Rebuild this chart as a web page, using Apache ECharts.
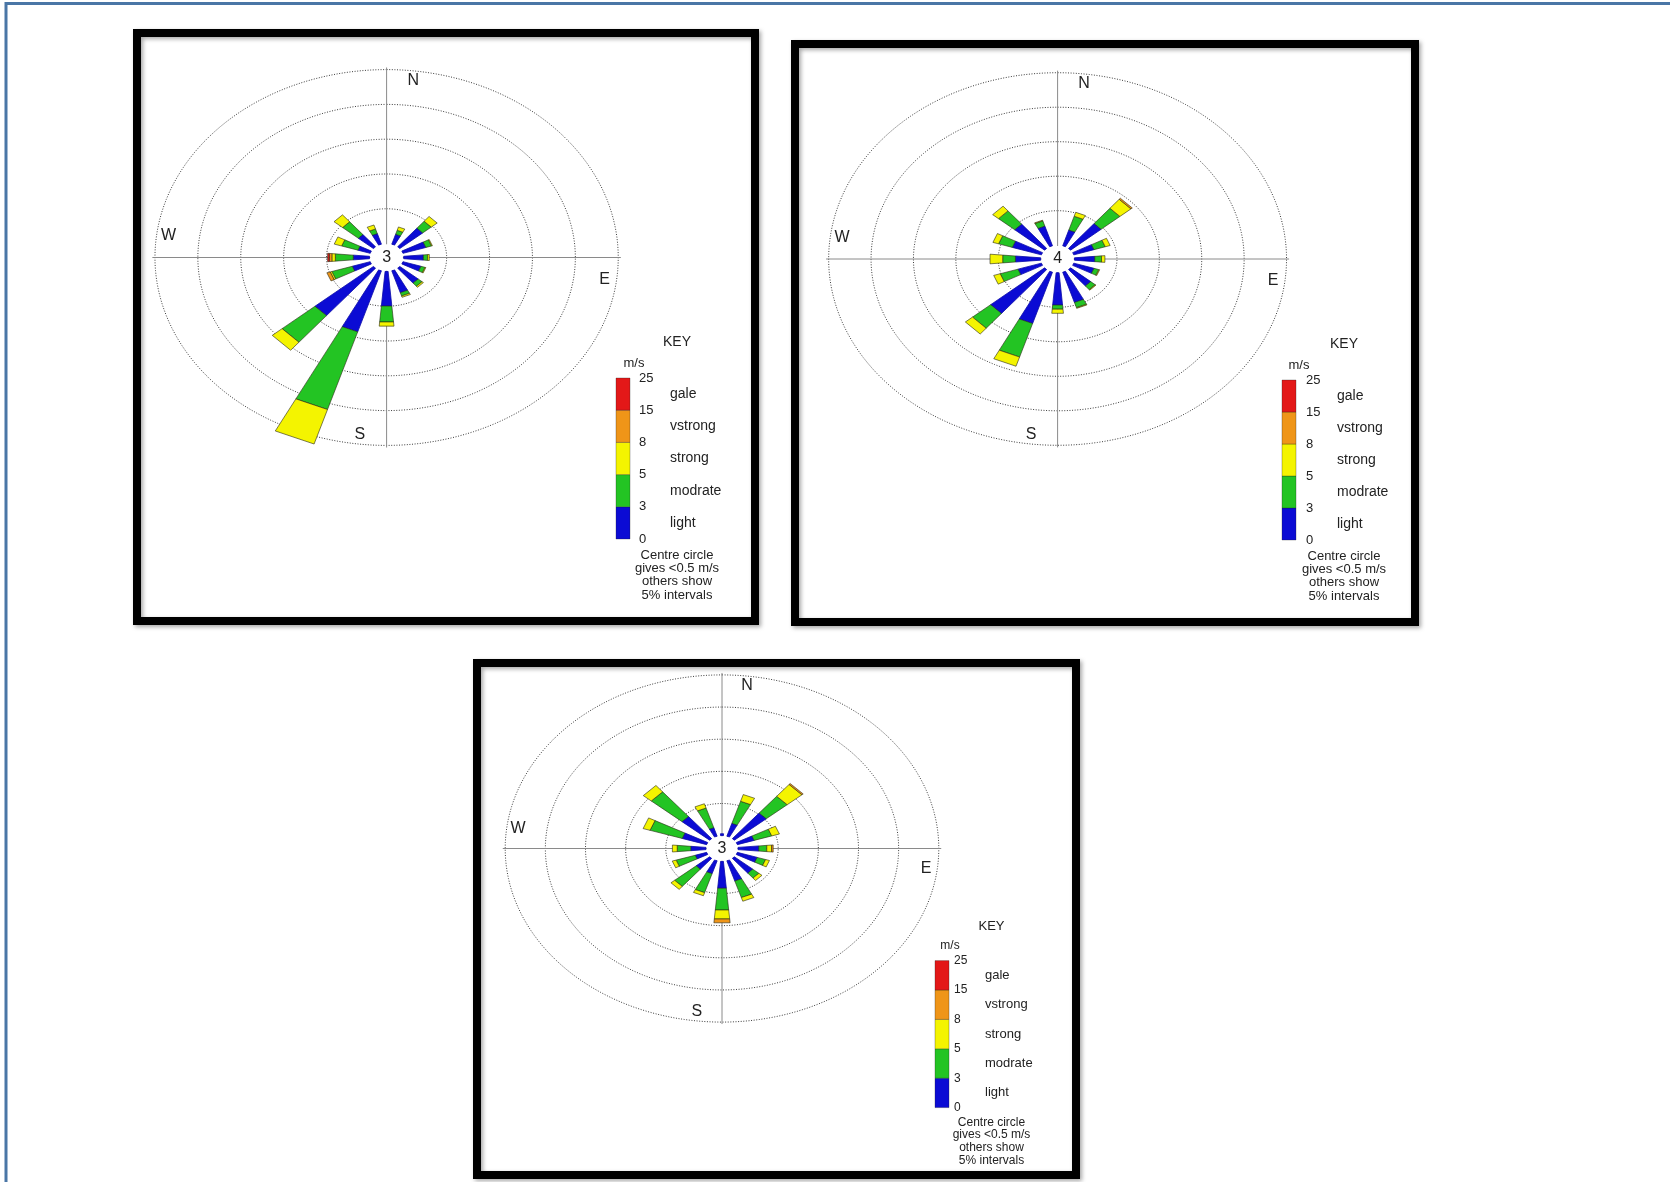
<!DOCTYPE html>
<html>
<head>
<meta charset="utf-8">
<script src="https://cdn.jsdelivr.net/npm/echarts/dist/echarts.min.js"></script>
<style>
  html, body { margin: 0; padding: 0; background: #fff; }
  #chart { width: 1670px; height: 1182px; }
</style>
</head>
<body>
<div id="chart"></div>
<script>
// Sixteen compass sectors, clockwise from north
const directions = ['N', 'NNE', 'NE', 'ENE', 'E', 'ESE', 'SE', 'SSE', 'S', 'SSW', 'SW', 'WSW', 'W', 'WNW', 'NW', 'NNW'];

// Wind speed bands (m/s) and their key labels
const speedBands = ['light', 'modrate', 'strong', 'vstrong', 'gale'];
const speedBreaks = ['0', '3', '5', '8', '15', '25'];
const bandColors = ['#0b0bd4', '#23c423', '#f4f400', '#ef9518', '#e31818'];

// Frequency rings (%) and calm percentage shown in the centre circle
const ringPercents = [5, 10, 15, 20, 25];
const calmPercents = [3, 4, 3];
const compassPoints = ['N', 'E', 'S', 'W'];
const keyNote = ['Centre circle', 'gives <0.5 m/s', 'others show', '5% intervals'];

// Rose 1 — frequency (%) per sector for each speed band
const rose1Light    = [0, 1.5, 3.5, 2.8, 2.3, 2.2, 2.8, 3.3, 5.0, 9.2, 8.9, 2.2, 1.9, 1.5, 2.3, 1.6];
const rose1Moderate = [0, 0.6, 1.3, 0.7, 0.5, 0.5, 0.6, 0.5, 2.3, 11.7, 5.0, 2.5, 2.1, 2.0, 2.4, 0.7];
const rose1Strong   = [0, 0.5, 0.9, 0.1, 0.2, 0.1, 0.2, 0.2, 0.6, 5.2, 1.5, 0.2, 0.4, 0.9, 1.3, 0.6];
const rose1VStrong  = [0, 0, 0, 0, 0, 0, 0, 0, 0, 0, 0, 0.4, 0.3, 0, 0, 0];
const rose1Gale     = [0, 0, 0, 0, 0, 0, 0, 0, 0, 0, 0, 0, 0.2, 0, 0, 0];

// Rose 2
const rose2Light    = [0, 2.4, 4.7, 2.5, 2.4, 2.5, 3.1, 4.6, 4.7, 7.8, 8.3, 2.9, 3.0, 3.6, 4.6, 3.0];
const rose2Moderate = [0, 2.1, 2.9, 1.4, 0.8, 0.6, 0.7, 0.8, 0.6, 5.1, 2.8, 2.2, 1.5, 1.7, 2.5, 0.8];
const rose2Strong   = [0, 0.6, 1.7, 0.6, 0.4, 0.1, 0.1, 0.1, 0.6, 1.4, 1.1, 0.8, 1.5, 0.7, 0.9, 0.1];
const rose2VStrong  = [0, 0, 0.2, 0, 0, 0, 0, 0, 0, 0, 0, 0, 0, 0, 0, 0];
const rose2Gale     = [0, 0, 0, 0, 0, 0, 0, 0, 0, 0, 0, 0, 0, 0, 0, 0];

// Rose 3
const rose3Light    = [0.3, 2.1, 5.2, 2.2, 2.6, 2.6, 3.0, 3.3, 4.2, 2.1, 2.2, 1.5, 1.9, 3.2, 4.5, 1.4];
const rose3Moderate = [0, 3.6, 3.4, 2.3, 1.0, 1.1, 1.0, 2.7, 3.4, 3.1, 3.5, 2.5, 1.7, 4.2, 5.0, 3.2];
const rose3Strong   = [0, 1.1, 2.4, 1.0, 0.6, 0.5, 0.5, 0.6, 1.4, 0.5, 0.6, 0.5, 0.6, 0.9, 1.3, 0.7];
const rose3VStrong  = [0, 0, 0.2, 0, 0.2, 0, 0, 0, 0.6, 0, 0, 0, 0, 0, 0, 0];
const rose3Gale     = [0, 0, 0, 0, 0, 0, 0, 0, 0, 0, 0, 0, 0, 0, 0, 0];

const roses = [
  [rose1Light, rose1Moderate, rose1Strong, rose1VStrong, rose1Gale],
  [rose2Light, rose2Moderate, rose2Strong, rose2VStrong, rose2Gale],
  [rose3Light, rose3Moderate, rose3Strong, rose3VStrong, rose3Gale]
];

// Radius (in % units) of the calm circle; rings are counted from its edge
const centreRadius = 2;
const sectorHalfWidth = 5; // degrees

// Panel geometry: rose centre, pixel size of 1 % horizontally / vertically, frame and key layout
const panelLayout = [
  { cx: 386.6, cy: 257.5, sx: 8.58, sy: 6.96, frame: [137, 33, 618, 588],
    key: { x: 616, top: 378, bandH: 32.2, titleX: 677, titleY: 342, unitX: 634, unitY: 363,
           numX: 639, labelX: 670, noteY: 555, noteH: 13.4, font: 14 } },
  { cx: 1057.6, cy: 259, sx: 8.48, sy: 6.9, frame: [795, 44, 620, 578],
    key: { x: 1282, top: 380, bandH: 32, titleX: 1344, titleY: 344, unitX: 1299, unitY: 365,
           numX: 1306, labelX: 1337, noteY: 556, noteH: 13.4, font: 14 } },
  { cx: 722, cy: 848.5, sx: 8.03, sy: 6.43, frame: [477, 663, 599, 512],
    key: { x: 935, top: 960.6, bandH: 29.4, titleX: 991.5, titleY: 926.6, unitX: 950, unitY: 945.7,
           numX: 954, labelX: 985, noteY: 1122.5, noteH: 12.6, font: 13 } }
];

const FONT = '"Liberation Sans", Arial, sans-serif';
const TEXT = '#222';
const AXIS_SPAN = 30;

function pt(r, bearing) {
  const a = bearing * Math.PI / 180;
  return [r * Math.sin(a), r * Math.cos(a)];
}

// Stacked sector segments: [bearing, start %, end %, band]
function buildSegments(bands) {
  const out = [];
  directions.forEach((d, i) => {
    let acc = 0;
    bands.forEach((arr, k) => {
      const v = arr[i];
      if (v > 0) { out.push([i * 22.5, acc, acc + v, k]); acc += v; }
    });
  });
  return out;
}

const grids = [], xAxes = [], yAxes = [], series = [], graphics = [];

// Page frame
graphics.push({
  type: 'polyline', z: 1,
  shape: { points: [[6, 1182], [6, 3.5], [1670, 3.5]] },
  style: { stroke: '#4a76a6', lineWidth: 3, fill: null }
});

panelLayout.forEach((P, pi) => {
  grids.push({ left: P.cx - AXIS_SPAN * P.sx, top: P.cy - AXIS_SPAN * P.sy,
               width: 2 * AXIS_SPAN * P.sx, height: 2 * AXIS_SPAN * P.sy });
  xAxes.push({ type: 'value', gridIndex: pi, min: -AXIS_SPAN, max: AXIS_SPAN, show: false });
  yAxes.push({ type: 'value', gridIndex: pi, min: -AXIS_SPAN, max: AXIS_SPAN, show: false });
  const common = { type: 'custom', coordinateSystem: 'cartesian2d', xAxisIndex: pi, yAxisIndex: pi, silent: true, animation: false };
  const outerR = centreRadius + ringPercents[ringPercents.length - 1];

  // Dotted frequency rings
  series.push(Object.assign({}, common, {
    z: 2,
    data: ringPercents.map(p => [p, 0]),
    renderItem: (params, api) => {
      const R = centreRadius + api.value(0);
      const pts = [];
      for (let t = 0; t <= 360; t += 2) pts.push(api.coord(pt(R, t)));
      return { type: 'polyline', shape: { points: pts },
               style: { stroke: '#3c3c3c', lineWidth: 1, lineDash: [1, 1.6], fill: null } };
    }
  }));

  // Cross hair through the centre
  series.push(Object.assign({}, common, {
    z: 2,
    data: [[0, 0], [90, 0]],
    renderItem: (params, api) => {
      const b = api.value(0);
      const a = api.coord(pt(outerR + 0.3, b));
      const c = api.coord(pt(outerR + 0.3, b + 180));
      return { type: 'line', shape: { x1: a[0], y1: a[1], x2: c[0], y2: c[1] },
               style: { stroke: '#8a8a8a', lineWidth: 1 } };
    }
  }));

  // Compass letters, set just clockwise of each axis
  series.push(Object.assign({}, common, {
    z: 3,
    data: compassPoints.map((c, i) => [i * 90, 0]),
    renderItem: (params, api) => {
      const p = api.coord(pt(outerR - 1.4, api.value(0) + 7));
      return { type: 'text', x: p[0], y: p[1],
               style: { text: compassPoints[params.dataIndex], textAlign: 'center', textVerticalAlign: 'middle',
                        fill: TEXT, font: '16px ' + FONT } };
    }
  }));

  // Wind rose sectors
  series.push(Object.assign({}, common, {
    z: 4,
    data: buildSegments(roses[pi]),
    renderItem: (params, api) => {
      const b = api.value(0);
      const r0 = centreRadius + api.value(1);
      const r1 = centreRadius + api.value(2);
      const band = api.value(3);
      const pts = [pt(r0, b - sectorHalfWidth), pt(r1, b - sectorHalfWidth),
                   pt(r1, b + sectorHalfWidth), pt(r0, b + sectorHalfWidth)].map(q => api.coord(q));
      return { type: 'polygon', shape: { points: pts },
               style: { fill: bandColors[band], stroke: band === 0 ? '#0a0aa8' : 'rgba(40,40,20,0.75)', lineWidth: 0.8 } };
    }
  }));

  // Calm circle with its percentage
  series.push(Object.assign({}, common, {
    z: 5,
    data: [[calmPercents[pi], 0]],
    renderItem: (params, api) => {
      const pts = [];
      for (let t = 0; t < 360; t += 10) pts.push(api.coord(pt(centreRadius * 0.95, t)));
      const c = api.coord([0, 0]);
      return { type: 'group', children: [
        { type: 'polygon', shape: { points: pts }, style: { fill: '#fff', stroke: null } },
        { type: 'text', x: c[0], y: c[1],
          style: { text: String(api.value(0)), textAlign: 'center', textVerticalAlign: 'middle', fill: TEXT, font: '16px ' + FONT } }
      ] };
    }
  }));

  // Panel frame
  const f = P.frame;
  graphics.push({
    type: 'rect', z: 10,
    shape: { x: f[0], y: f[1], width: f[2], height: f[3] },
    style: { fill: null, stroke: '#000', lineWidth: 8,
             shadowBlur: 4, shadowColor: 'rgba(0,0,0,0.35)', shadowOffsetX: 2, shadowOffsetY: 2 }
  });

  // Speed key
  const K = P.key;
  const fs = K.font;
  graphics.push({ type: 'text', z: 10, x: K.titleX, y: K.titleY,
    style: { text: 'KEY', textAlign: 'center', textVerticalAlign: 'middle', fill: TEXT, font: fs + 'px ' + FONT } });
  graphics.push({ type: 'text', z: 10, x: K.unitX, y: K.unitY,
    style: { text: 'm/s', textAlign: 'center', textVerticalAlign: 'middle', fill: TEXT, font: (fs - 1) + 'px ' + FONT } });
  speedBands.forEach((name, k) => {
    const y0 = K.top + (speedBands.length - 1 - k) * K.bandH;
    graphics.push({ type: 'rect', z: 10,
      shape: { x: K.x, y: y0, width: 14, height: K.bandH },
      style: { fill: bandColors[k], stroke: 'rgba(30,30,30,0.5)', lineWidth: 0.6 } });
    graphics.push({ type: 'text', z: 10, x: K.labelX, y: y0 + K.bandH / 2,
      style: { text: name, textAlign: 'left', textVerticalAlign: 'middle', fill: TEXT, font: fs + 'px ' + FONT } });
  });
  speedBreaks.forEach((s, j) => {
    graphics.push({ type: 'text', z: 10, x: K.numX, y: K.top + (speedBreaks.length - 1 - j) * K.bandH,
      style: { text: s, textAlign: 'left', textVerticalAlign: 'middle', fill: TEXT, font: (fs - 1) + 'px ' + FONT } });
  });
  keyNote.forEach((line, j) => {
    graphics.push({ type: 'text', z: 10, x: K.titleX, y: K.noteY + j * K.noteH,
      style: { text: line, textAlign: 'center', textVerticalAlign: 'middle', fill: TEXT, font: (fs - 1) + 'px ' + FONT } });
  });
});

const chart = echarts.init(document.getElementById('chart'), null, { renderer: 'canvas' });
chart.setOption({
  backgroundColor: '#fff',
  animation: false,
  grid: grids,
  xAxis: xAxes,
  yAxis: yAxes,
  series: series,
  graphic: { elements: graphics }
});
</script>
</body>
</html>
